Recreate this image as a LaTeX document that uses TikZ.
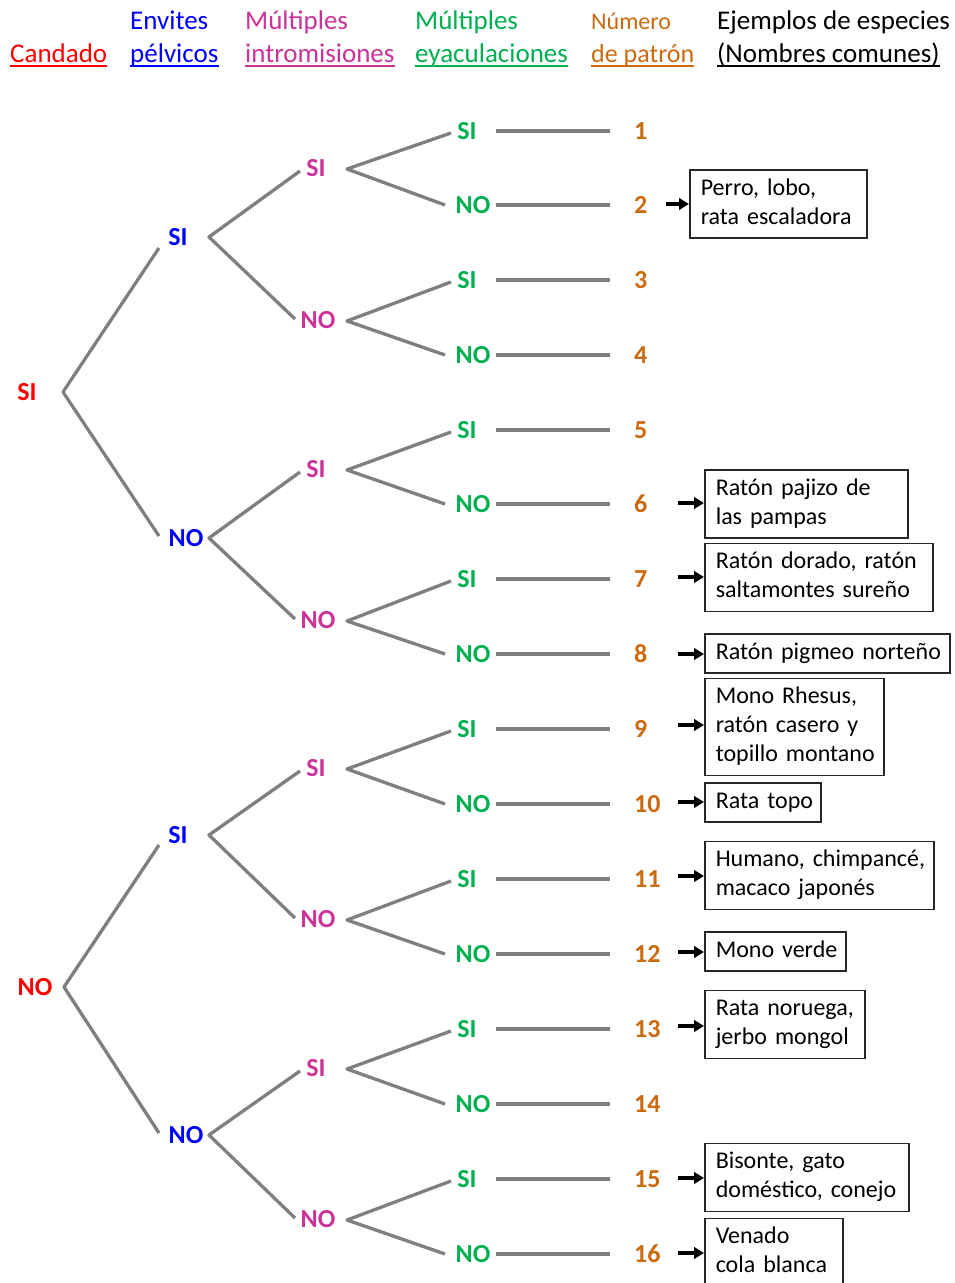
\documentclass[tikz,border=0pt]{standalone}
\usepackage{fontspec}
\setmainfont{Carlito}
\usetikzlibrary{arrows.meta}

\definecolor{lockred}{HTML}{FF0000}
\definecolor{thrustblue}{HTML}{0000FF}
\definecolor{intromag}{HTML}{CC3399}
\definecolor{ejacgreen}{HTML}{00B050}
\definecolor{numorange}{HTML}{CC6A10}
\definecolor{branchgray}{HTML}{7F7F7F}

\tikzset{
  lbl/.style={inner sep=0pt, font=\fontsize{26}{30}\selectfont\bfseries},
  hdr/.style={inner sep=0pt, anchor=base west, font=\fontsize{27}{32}\selectfont},
  uline/.style={line width=2pt},
  branch/.style={draw=branchgray, line width=3.3pt, line join=round},
  num/.style={lbl, text=numorange, anchor=west},
  pointer/.style={line width=3.6pt, -{Triangle[length=10pt,width=11.5pt]}},
  species/.style={draw=black!85, line width=1.5pt, anchor=west, align=left,
    inner xsep=11pt, inner ysep=5pt, font=\fontsize{24}{29}\selectfont},
}

\begin{document}
\begin{tikzpicture}[x=1pt,y=-1pt]
\useasboundingbox[fill=white] (0,0) rectangle (955,1283);

% ---- column headers ----
\node[hdr, text=lockred] (h1) at (10,62) {Candado};
\node[hdr, text=thrustblue] (h2a) at (130,29) {Envites};
\node[hdr, text=thrustblue] (h2) at (130,62) {pélvicos};
\node[hdr, text=intromag] (h3a) at (245,29) {Múltiples};
\node[hdr, text=intromag] (h3) at (245,62) {intromisiones};
\node[hdr, text=ejacgreen] (h4a) at (415,29) {Múltiples};
\node[hdr, text=ejacgreen] (h4) at (415,62) {eyaculaciones};
\node[hdr, text=numorange, font=\fontsize{24}{29}\selectfont] (h5a) at (591,29) {Número};
\node[hdr, text=numorange, font=\fontsize{26}{31}\selectfont] (h5) at (591,62) {de patrón};
\node[hdr, text=black] (h6a) at (717,29) {Ejemplos de especies};
\node[hdr, text=black] (h6) at (717,62) {(Nombres comunes)};
\foreach \h/\c in {h1/lockred, h2/thrustblue, h3/intromag, h4/ejacgreen, h5/numorange, h6/black}
  \draw[uline, \c] ([yshift=-4pt]\h.base west) -- ([yshift=-4pt]\h.base east);

% ---- level 1: lock ----
\node[lbl, text=lockred] (r1) at (27,392) {SI};
\node[lbl, text=lockred] (r2) at (35,987) {NO};
\coordinate (r1o) at (63,392);
\coordinate (r2o) at (64,987);

% ---- level 2: pelvic thrusts ----
\foreach \i/\t/\x/\y/\ix/\iy in {1/SI/178/237/159/248, 2/NO/186/538/159/536,
                                 3/SI/178/835/159/845, 4/NO/186/1135/159/1133} {
  \node[lbl, text=thrustblue] (b\i) at (\x,\y) {\t};
  \coordinate (b\i i) at (\ix,\iy);
  \coordinate (b\i o) at (209,\y);
}
\draw[branch] (b1i) -- (r1o) -- (b2i);
\draw[branch] (b3i) -- (r2o) -- (b4i);

% ---- level 3: multiple intromissions ----
\foreach \i/\t/\x/\y/\ix/\iy in {1/SI/316/168/300/171, 2/NO/318/320/295/319,
                                 3/SI/316/469/300/472, 4/NO/318/620/295/619,
                                 5/SI/316/768/300/771, 6/NO/318/919/295/918,
                                 7/SI/316/1068/300/1071, 8/NO/318/1219/295/1218} {
  \node[lbl, text=intromag] (m\i) at (\x,\y) {\t};
  \coordinate (m\i i) at (\ix,\iy);
  \coordinate (m\i o) at (347,\y+1);
}
\foreach \p/\a/\b in {1/1/2, 2/3/4, 3/5/6, 4/7/8}
  \draw[branch] (m\a i) -- (b\p o) -- (m\b i);

% ---- level 4: multiple ejaculations, pattern numbers ----
\foreach \k/\t/\x/\y/\ix/\iy in {1/SI/467/131/451/133, 2/NO/473/205/445/205,
                                 3/SI/467/280/451/282, 4/NO/473/355/445/355,
                                 5/SI/467/430/451/432, 6/NO/473/504/445/504,
                                 7/SI/467/579/451/581, 8/NO/473/654/445/654,
                                 9/SI/467/729/451/731, 10/NO/473/804/445/804,
                                 11/SI/467/879/451/881, 12/NO/473/954/445/954,
                                 13/SI/467/1029/451/1031, 14/NO/473/1104/445/1104,
                                 15/SI/467/1179/451/1181, 16/NO/473/1254/445/1254} {
  \node[lbl, text=ejacgreen] (g\k) at (\x,\y) {\t};
  \coordinate (g\k i) at (\ix,\iy);
  \coordinate (g\k o) at (496,\y);
  \coordinate (g\k e) at (610,\y);
  \node[num] (n\k) at (634,\y) {\k};
  \draw[branch] (g\k o) -- (g\k e);
}
\foreach \p/\a/\b in {1/1/2, 2/3/4, 3/5/6, 4/7/8, 5/9/10, 6/11/12, 7/13/14, 8/15/16}
  \draw[branch] (g\a i) -- (m\p o) -- (g\b i);

% ---- species examples ----
\node[species, text width=155pt] (s2) at (689,204)
  {\strut\mbox{Perro, lobo,}\\\mbox{rata escaladora}\strut};
\node[species, text width=181pt] (s6) at (704,504)
  {\strut\mbox{Ratón pajizo de}\\\mbox{las pampas}\strut};
\node[species, text width=206pt] (s7) at (704,577.5)
  {\strut\mbox{Ratón dorado, ratón}\\\mbox{saltamontes sureño}\strut};
\node[species, text width=223pt] (s8) at (704,653.5)
  {\strut\mbox{Ratón pigmeo norteño}\strut};
\node[species, text width=157pt] (s9) at (704,727)
  {\strut\mbox{Mono Rhesus,}\\\mbox{ratón casero y}\\\mbox{topillo montano}\strut};
\node[species, text width=94pt] (s10) at (704,802.5)
  {\strut\mbox{Rata topo}\strut};
\node[species, text width=207pt] (s11) at (704,875.5)
  {\strut\mbox{Humano, chimpancé,}\\\mbox{macaco japonés}\strut};
\node[species, text width=119pt] (s12) at (704,951.5)
  {\strut\mbox{Mono verde}\strut};
\node[species, text width=138pt] (s13) at (704,1024.5)
  {\strut\mbox{Rata noruega,}\\\mbox{jerbo mongol}\strut};
\node[species, text width=182pt] (s15) at (704,1177.5)
  {\strut\mbox{Bisonte, gato}\\\mbox{doméstico, conejo}\strut};
\node[species, text width=116pt] (s16) at (704,1252.5)
  {\strut\mbox{Venado}\\\mbox{cola blanca}\strut};

% ---- pointers from pattern numbers to species ----
\coordinate (a2) at (666,204);
\draw[pointer] (a2) -- (a2 -| s2.west);
\foreach \k/\y in {6/503, 7/577, 8/654, 9/725, 10/802, 11/876, 12/952, 13/1026, 15/1178, 16/1253} {
  \coordinate (a\k) at (678,\y);
  \draw[pointer] (a\k) -- (a\k -| s\k.west);
}
\end{tikzpicture}
\end{document}
